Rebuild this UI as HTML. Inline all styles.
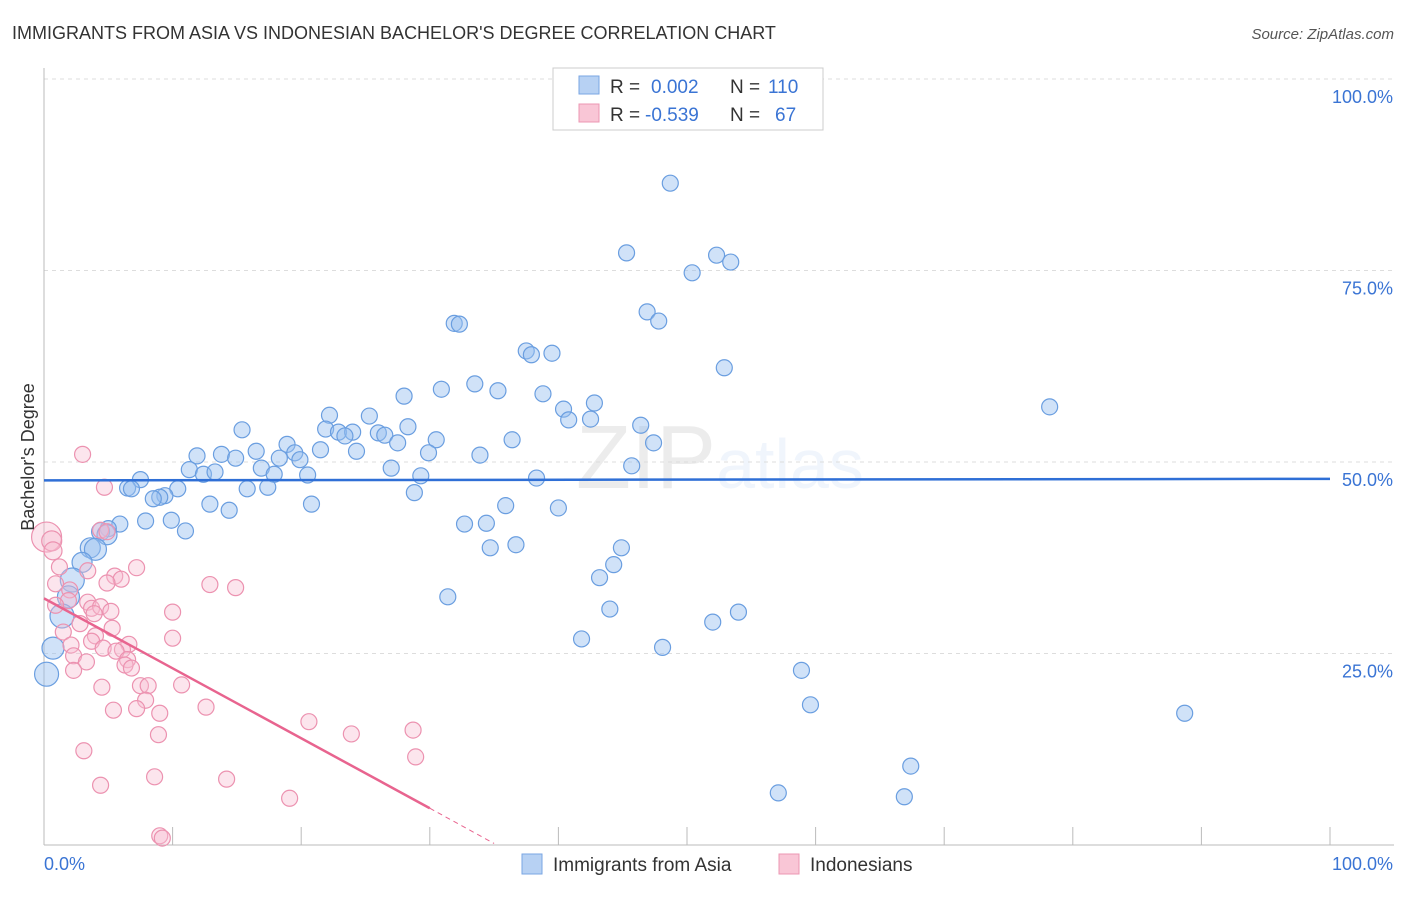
<!DOCTYPE html>
<html><head><meta charset="utf-8"><style>
body{margin:0;background:#fff;font-family:"Liberation Sans",sans-serif}
svg text{font-family:"Liberation Sans",sans-serif}
</style></head><body>
<svg id="chart" width="1406" height="892" xmlns="http://www.w3.org/2000/svg">
<text x="12" y="39" font-size="18" fill="#333">IMMIGRANTS FROM ASIA VS INDONESIAN BACHELOR'S DEGREE CORRELATION CHART</text>
<text x="1394" y="39" font-size="15" fill="#555" text-anchor="end" font-style="italic">Source: ZipAtlas.com</text>
<text x="720" y="488" font-size="90" text-anchor="middle" fill="#000" opacity="0.07" font-family="Liberation Serif">ZIP<tspan fill="#3b7dd8" font-family="Liberation Sans" font-size="70">atlas</tspan></text>
<g id="grid"></g>
<g id="axes"></g>
<g id="blue"></g>
<g id="pink"></g>
<g id="lines"></g>
<text transform="translate(34,457) rotate(-90)" font-size="18" fill="#333" text-anchor="middle">Bachelor's Degree</text>
<g>
<rect x="553" y="68" width="270" height="62" fill="#fff" stroke="#ccc"/>
<rect x="579" y="76" width="20" height="18" fill="#b7d1f3" stroke="#7aa6e3"/>
<rect x="579" y="104" width="20" height="18" fill="#f9c6d6" stroke="#ec97b3"/>
<text x="610" y="93" font-size="19" fill="#333">R = <tspan fill="#3a74d4" x="651">0.002</tspan><tspan x="730" fill="#333">N =</tspan><tspan x="768" fill="#3a74d4">110</tspan></text>
<text x="610" y="121" font-size="19" fill="#333">R = <tspan fill="#3a74d4" x="645">-0.539</tspan><tspan x="730" fill="#333">N =</tspan><tspan x="775" fill="#3a74d4">67</tspan></text>
</g>
<g>
<rect x="522" y="854" width="20" height="20" fill="#b7d1f3" stroke="#7aa6e3"/>
<text x="553" y="871" font-size="19" fill="#333">Immigrants from Asia</text>
<rect x="779" y="854" width="20" height="20" fill="#f9c6d6" stroke="#ec97b3"/>
<text x="810" y="871" font-size="19" fill="#333">Indonesians</text>
</g>
</svg>
<script>
const yTicks=[100,75,50,25];
const yTickLabels=["100.0%","75.0%","50.0%","25.0%"];
const xTicks=[10,20,30,40,50,60,70,80,90,100];
const asiaX=[48.7,45.3,52.3,53.4,50.4,31.9,32.3,46.9,47.8,52.9,37.5,37.9,39.5,78.2,30.9,33.5,35.3,38.8,28.0,42.8,40.4,22.2,25.3,40.8,42.5,46.4,15.4,21.9,22.9,24.0,26.0,26.5,28.3,23.4,30.5,36.4,47.4,18.9,21.5,16.5,24.3,27.5,11.9,13.8,19.5,18.3,14.9,19.9,29.9,33.9,11.3,12.4,13.3,16.9,17.9,20.5,27.0,29.3,38.3,45.7,7.5,6.5,6.8,10.4,9.4,9.0,8.5,15.8,17.4,28.8,12.9,14.4,20.8,35.9,40.0,7.9,9.9,11.0,32.7,34.4,5.9,5.0,4.4,4.9,34.7,36.7,44.9,3.6,4.0,2.96,44.3,43.2,2.2,31.4,1.9,44.0,54.0,52.0,1.4,41.8,48.1,0.7,58.9,0.2,59.6,88.7,67.4,57.1,66.9];
const asiaY=[86.4,77.3,77.0,76.1,74.7,68.1,68.0,69.6,68.4,62.3,64.5,64.0,64.2,57.2,59.5,60.2,59.3,58.9,58.6,57.7,56.9,56.1,56.0,55.5,55.6,54.8,54.2,54.3,53.9,53.9,53.8,53.5,54.6,53.4,52.9,52.9,52.5,52.3,51.6,51.4,51.4,52.5,50.8,51.0,51.2,50.5,50.5,50.3,51.2,50.9,49.0,48.4,48.7,49.2,48.4,48.3,49.2,48.2,47.9,49.5,47.7,46.6,46.5,46.5,45.6,45.4,45.2,46.5,46.7,46.0,44.5,43.7,44.5,44.3,44.0,42.3,42.4,41.0,41.9,42.0,41.9,41.3,40.9,40.5,38.8,39.2,38.8,38.8,38.6,36.9,36.6,34.9,34.6,32.4,32.4,30.8,30.4,29.1,29.9,26.9,25.8,25.7,22.8,22.3,18.3,17.2,10.3,6.8,6.3];
const asiaBig={103:12,101:11,98:12,94:11,92:12,89:10,87:10,88:11,82:9,83:10};
const indoX=[3.0,4.7,0.2,0.6,0.7,4.4,4.9,1.2,3.4,7.2,5.5,6.0,0.9,4.9,12.9,14.9,2.0,1.9,3.4,0.9,3.7,4.4,5.2,10.0,3.9,2.8,5.3,1.5,4.0,10.0,3.7,6.6,2.1,4.6,6.1,5.6,2.3,3.3,6.5,6.3,6.8,2.3,4.5,7.5,8.1,10.7,7.9,5.4,7.2,12.6,9.0,20.6,28.7,8.9,23.9,3.1,28.9,8.6,14.2,4.4,19.1,9.0,9.2];
const indoY=[51.0,46.7,40.2,39.7,38.4,41.1,40.9,36.3,35.8,36.2,35.1,34.7,34.1,34.2,34.0,33.6,33.3,31.9,31.7,31.3,30.9,31.1,30.5,30.4,30.2,28.9,28.3,27.8,27.3,27.0,26.6,26.2,26.1,25.7,25.5,25.3,24.7,23.9,24.2,23.5,23.1,22.8,20.6,20.8,20.8,20.9,18.9,17.6,17.8,18.0,17.2,16.1,15.0,14.4,14.5,12.3,11.5,8.9,8.6,7.8,6.1,1.2,0.9];
const indoBig={2:15,3:10,4:9};
const asiaTrend=[0,47.6,100,47.8];
const indoTrend=[0,32.2,30,4.8,35,0.2];
const NS="http://www.w3.org/2000/svg";
const X0=44,X1=1330,Y0=845,Y100=79;
const sx=v=>X0+(X1-X0)*v/100, sy=v=>Y0-(Y0-Y100)*v/100;
function mk(t,a,p){const e=document.createElementNS(NS,t);for(const k in a)e.setAttribute(k,a[k]);p.appendChild(e);return e;}
const grid=document.getElementById('grid'),axes=document.getElementById('axes');
yTicks.forEach((t,i)=>{
 const l=mk('line',{x1:X0,x2:1394,y1:sy(t),y2:sy(t),stroke:'#ddd','stroke-dasharray':'4,4'},grid);
 
 
 const tx=mk('text',{x:1393,y:sy(t)+24,'font-size':18,fill:'#3a74d4','text-anchor':'end'},axes);
 tx.textContent=yTickLabels[i];
 
 
});
mk('line',{x1:X0,x2:X0,y1:68,y2:Y0,stroke:'#bbb'},axes);
mk('line',{x1:X0,x2:1394,y1:Y0,y2:Y0,stroke:'#bbb'},axes);
xTicks.forEach(t=>{const l=mk('line',{x1:sx(t),x2:sx(t),y1:Y0-18,y2:Y0,stroke:'#bbb'},axes);
 
 });
let t0=mk('text',{x:44,y:870,'font-size':18,fill:'#3a74d4'},axes);t0.textContent='0.0%';


let t1=mk('text',{x:1393,y:870,'font-size':18,fill:'#3a74d4','text-anchor':'end'},axes);t1.textContent='100.0%';


const bg=document.getElementById('blue');
asiaX.forEach((v,i)=>{const c=mk('circle',{cx:sx(v),cy:sy(asiaY[i]),r:asiaBig[i]||8,fill:'rgba(150,190,240,0.45)',stroke:'#6a9ee0','stroke-width':1.2},bg);
 
 });
const pg=document.getElementById('pink');
indoX.forEach((v,i)=>{const c=mk('circle',{cx:sx(v),cy:sy(indoY[i]),r:indoBig[i]||8,fill:'rgba(248,190,210,0.4)',stroke:'#ec92b0','stroke-width':1.2},pg);
 
 });
const lg=document.getElementById('lines');
const bl=mk('line',{x1:sx(asiaTrend[0]),y1:sy(asiaTrend[1]),x2:sx(asiaTrend[2]),y2:sy(asiaTrend[3]),stroke:'#2f6fd6','stroke-width':2.5},lg);


const pl=mk('line',{x1:sx(indoTrend[0]),y1:sy(indoTrend[1]),x2:sx(indoTrend[2]),y2:sy(indoTrend[3]),stroke:'#e8648f','stroke-width':2.5},lg);


const pd=mk('line',{x1:sx(indoTrend[2]),y1:sy(indoTrend[3]),x2:sx(indoTrend[4]),y2:sy(indoTrend[5]),stroke:'#e8648f','stroke-width':1,'stroke-dasharray':'5,4'},lg);


</script>
</body></html>
